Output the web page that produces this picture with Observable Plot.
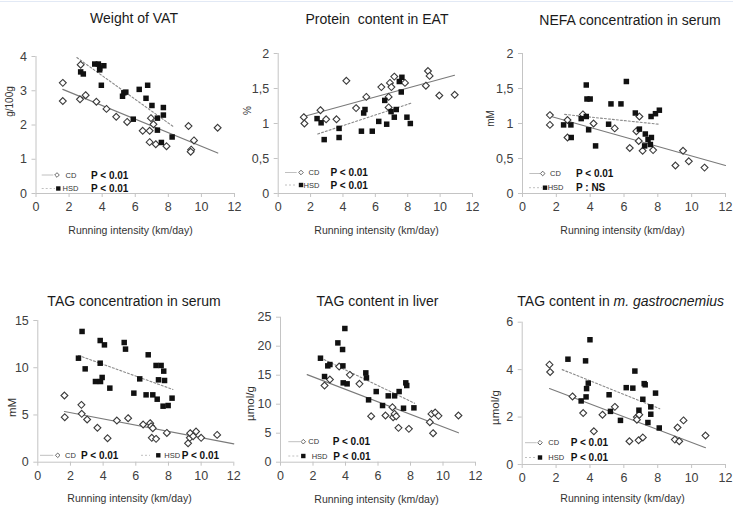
<!DOCTYPE html>
<html>
<head>
<meta charset="utf-8">
<script src="https://cdn.jsdelivr.net/npm/d3@7"></script>
<script src="https://cdn.jsdelivr.net/npm/@observablehq/plot@0.6"></script>
<style>
  body { margin: 0; background: #fff; font-family: "Liberation Sans", Arial, sans-serif; }
  #root { position: relative; width: 733px; height: 530px; overflow: hidden; background: #fff; }
  .panel { position: absolute; }
  .title { position: absolute; transform: translate(-50%, -50%); font-size: 14px; color: #1a1a1a; white-space: pre; line-height: 1; }
  #topline { position: absolute; left: 0; top: 1px; width: 733px; height: 1px; background: #e2e9f5; }
  #overlay { position: absolute; left: 0; top: 0; pointer-events: none; }
</style>
</head>
<body>
<div id="root"><div id="topline"></div></div>
<script>
// ---------- DATA ----------
const xTicks = [0, 2, 4, 6, 8, 10, 12];
const groups = ["CD", "HSD"];

// Weight of VAT (g/100g)
const vatCdX  = [1.62,1.62,2.70,2.66,3.00,3.65,4.26,4.85,5.51,6.45,6.87,6.95,7.10,6.87,7.24,7.89,9.22,9.55,9.38,9.35,10.98];
const vatCdY  = [3.23,2.70,3.76,2.75,2.87,2.68,2.47,2.24,2.09,1.83,1.83,2.20,2.02,1.50,1.44,1.38,1.97,1.55,1.28,1.22,1.92];
const vatHsdX = [2.70,2.86,3.55,3.77,3.85,3.85,4.10,3.95,5.23,5.31,5.43,5.88,6.24,6.65,6.75,7.01,7.34,7.34,7.70,7.70,7.58,8.23];
const vatHsdY = [3.55,3.49,3.78,3.78,3.66,3.61,3.73,3.16,2.84,2.94,2.96,2.17,3.04,2.78,3.16,2.57,2.20,1.85,2.51,2.29,1.49,1.65];
const vatCdFitX = [1.62, 10.99], vatCdFitY = [3.04, 1.18];
const vatHsdFitX = [2.47, 8.31], vatHsdFitY = [3.97, 1.95];
const vatYTicks = [0, 1, 2, 3, 4];

// Protein content in EAT (%)
const protCdX  = [1.58,1.62,2.61,2.96,3.60,4.21,4.81,5.44,6.37,6.82,6.82,6.90,6.99,7.17,7.83,9.12,9.25,9.35,9.95,10.90];
const protCdY  = [1.09,1.00,1.19,1.06,1.06,1.61,1.22,1.38,1.52,1.38,1.23,1.58,1.52,1.67,1.58,1.54,1.75,1.68,1.40,1.41];
const protHsdX = [2.40,2.65,2.84,3.76,3.76,5.14,5.28,5.36,5.81,6.21,6.58,6.70,6.97,7.17,7.29,7.48,7.64,7.60,7.95,8.16];
const protHsdY = [1.07,1.01,0.77,0.93,0.80,0.89,1.15,1.20,0.89,1.03,1.33,0.99,1.17,1.09,1.20,1.60,1.66,1.45,1.09,1.00];
const protCdFitX = [1.58, 10.89], protCdFitY = [1.10, 1.69];
const protHsdFitX = [2.44, 8.20], protHsdFitY = [0.85, 1.29];
const halfTicks = [0, 0.5, 1, 1.5, 2];

// NEFA concentration in serum (mM)
const nefaCdX  = [1.62,1.62,2.66,2.66,3.57,4.20,5.45,6.34,6.73,6.87,6.91,7.10,7.72,9.04,9.49,9.83,10.76];
const nefaCdY  = [1.12,0.98,1.05,0.80,1.13,1.00,0.93,0.65,0.89,0.75,1.10,0.61,0.62,0.40,0.61,0.46,0.37];
const nefaHsdX = [2.43,2.86,2.88,3.47,3.77,3.77,3.81,4.00,3.91,4.32,5.09,5.23,5.82,6.14,6.67,6.91,7.26,7.22,7.42,7.56,7.62,7.60,7.86,8.09];
const nefaHsdY = [0.98,0.98,0.80,1.07,1.55,1.10,1.35,1.35,0.91,0.68,0.99,1.28,1.28,1.60,1.15,0.92,0.85,0.68,0.77,0.70,0.80,1.10,1.14,1.19];
const nefaCdFitX = [1.70, 12.0], nefaCdFitY = [1.10, 0.40];
const nefaHsdFitX = [2.49, 8.05], nefaHsdFitY = [1.13, 0.99];

// TAG concentration in serum (mM)
const tsCdX  = [1.63,1.65,2.67,2.69,3.02,3.65,4.27,4.84,5.53,6.45,6.88,6.94,7.04,6.98,7.24,7.90,9.20,9.31,9.33,9.51,9.69,10.00,10.98];
const tsCdY  = [7.06,4.76,6.07,5.12,4.52,3.64,2.54,4.41,4.66,3.99,4.13,3.81,3.60,2.58,2.47,3.10,2.00,2.58,3.07,2.75,3.25,2.58,2.89];
const tsHsdX = [2.49,2.71,2.90,3.53,3.82,3.82,3.84,3.94,4.08,4.41,5.29,5.37,5.88,6.24,6.63,6.76,7.04,7.24,7.31,7.39,7.55,7.71,7.76,7.67,7.98,8.22];
const tsHsdY = [11.01,13.84,9.88,8.54,12.88,10.48,8.54,8.97,12.42,7.84,12.67,11.97,7.31,8.82,7.13,11.37,7.13,10.24,6.67,8.72,10.24,9.64,8.65,5.93,6.00,6.78];
const tsCdFitX = [1.63, 12.0], tsCdFitY = [5.37, 1.94];
const tsHsdFitX = [2.49, 8.27], tsHsdFitY = [11.3, 7.7];
const tsYTicks = [0, 5, 10, 15];

// TAG content in liver (µmol/g)
const tlCdX  = [2.71,3.04,3.61,4.27,4.86,5.58,6.46,6.89,6.93,7.02,7.12,7.26,7.90,9.19,9.29,9.52,9.39,9.72,10.95];
const tlCdY  = [13.22,14.25,16.49,15.06,13.51,7.93,8.05,9.48,7.76,8.33,7.93,5.92,5.75,6.90,8.33,8.56,5.00,7.99,8.05];
const tlHsdX = [2.46,2.71,2.91,3.04,3.53,3.82,3.84,3.86,3.96,4.10,5.25,5.29,5.42,5.89,6.28,6.63,7.02,7.30,7.57,7.71,7.77,8.21];
const tlHsdY = [17.93,14.77,16.61,16.84,20.57,19.43,16.61,13.68,23.05,13.51,15.40,14.54,10.75,12.18,9.77,11.44,11.44,12.18,9.31,13.68,13.22,9.37];
const tlCdFitX = [1.64, 10.95], tlCdFitY = [15.1, 5.06];
const tlHsdFitX = [2.46, 8.25], tlHsdFitY = [17.99, 10.17];
const tlYTicks = [0, 5, 10, 15, 20, 25];

// TAG content in m. gastrocnemius (µmol/g)
const tmCdX  = [1.61,1.65,2.97,3.60,4.23,4.74,5.47,6.33,6.77,6.77,6.87,6.91,7.12,9.01,9.17,9.27,9.52,10.82];
const tmCdY  = [4.21,3.90,2.87,2.17,1.40,2.10,2.43,0.98,2.00,1.89,1.02,2.10,1.14,1.05,1.56,0.98,1.86,1.22];
const tmHsdX = [2.70,3.74,4.00,3.48,3.77,3.80,3.90,5.13,5.21,5.80,6.14,6.53,6.65,6.89,7.12,7.20,7.26,7.42,7.59,7.59,7.87,8.09];
const tmHsdY = [4.44,4.37,5.26,2.68,2.85,3.20,3.43,2.94,2.24,1.86,3.24,3.22,3.94,2.29,2.75,3.41,3.36,1.77,2.43,2.12,3.01,1.54];
const tmCdFitX = [1.61, 10.82], tmCdFitY = [3.20, 0.71];
const tmHsdFitX = [2.36, 8.12], tmHsdFitY = [4.00, 2.35];
const tmYTicks = [0, 2, 4, 6];

const titles = ["Weight of VAT", "Protein  content in EAT", "NEFA concentration in serum",
                "TAG concentration in serum", "TAG content in liver", "TAG content in "];
const yLabels = ["g/100g", "%", "mM", "mM", "µmol/g", "µmol/g"];
const xLabel = "Running intensity (km/day)";
const pLabels = [["P < 0.01","P < 0.01"],["P < 0.01","P < 0.01"],["P < 0.01","P : NS"],
                 ["P < 0.01","P < 0.01"],["P < 0.01","P < 0.01"],["P < 0.01","P < 0.01"]];

// ---------- LAYOUT ----------
const zip = (xs, ys) => xs.map((x, i) => ({x, y: ys[i]}));
const comma = d => String(d).replace(".", ",");

const panels = [
  {L:0,   T:40,  W:245, H:205, x0:35.5, x12:234, y0:193, yTop:56, yDomain:[0,4],  yTicks:vatYTicks, fmt:d=>d,
   cd:zip(vatCdX,vatCdY), hsd:zip(vatHsdX,vatHsdY), cdFit:zip(vatCdFitX,vatCdFitY), hsdFit:zip(vatHsdFitX,vatHsdFitY),
   yl:{x:9,y:101,size:10}, xl:{x:130,y:230}, title:{x:134,y:18}},
  {L:242, T:40,  W:240, H:205, x0:277.7, x12:472, y0:193, yTop:53, yDomain:[0,2], yTicks:halfTicks, fmt:comma,
   cd:zip(protCdX,protCdY), hsd:zip(protHsdX,protHsdY), cdFit:zip(protCdFitX,protCdFitY), hsdFit:zip(protHsdFitX,protHsdFitY),
   yl:{x:247,y:110,size:10}, xl:{x:376,y:230}, title:{x:377,y:19}},
  {L:484, T:40,  W:249, H:205, x0:522, x12:725, y0:193, yTop:53, yDomain:[0,2], yTicks:halfTicks, fmt:comma,
   cd:zip(nefaCdX,nefaCdY), hsd:zip(nefaHsdX,nefaHsdY), cdFit:zip(nefaCdFitX,nefaCdFitY), hsdFit:zip(nefaHsdFitX,nefaHsdFitY),
   yl:{x:490,y:118,size:10}, xl:{x:622,y:230}, title:{x:630,y:20}},
  {L:0,   T:305, W:245, H:225, x0:37.3, x12:233.3, y0:461.7, yTop:320, yDomain:[0,15], yTicks:tsYTicks, fmt:d=>d,
   cd:zip(tsCdX,tsCdY), hsd:zip(tsHsdX,tsHsdY), cdFit:zip(tsCdFitX,tsCdFitY), hsdFit:zip(tsHsdFitX,tsHsdFitY),
   yl:{x:12,y:407,size:11.5}, xl:{x:129,y:498}, title:{x:134,y:301}},
  {L:242, T:305, W:240, H:225, x0:280, x12:475, y0:461.7, yTop:316.7, yDomain:[0,25], yTicks:tlYTicks, fmt:d=>d,
   cd:zip(tlCdX,tlCdY), hsd:zip(tlHsdX,tlHsdY), cdFit:zip(tlCdFitX,tlCdFitY), hsdFit:zip(tlHsdFitX,tlHsdFitY),
   yl:{x:250,y:403,size:11.5}, xl:{x:376,y:499}, title:{x:377.5,y:301}},
  {L:484, T:305, W:249, H:225, x0:521.7, x12:725, y0:464, yTop:321.7, yDomain:[0,6], yTicks:tmYTicks, fmt:d=>d,
   cd:zip(tmCdX,tmCdY), hsd:zip(tmHsdX,tmHsdY), cdFit:zip(tmCdFitX,tmCdFitY), hsdFit:zip(tmHsdFitX,tmHsdFitY),
   yl:{x:495,y:407,size:11.5}, xl:{x:622,y:498}, title:{x:620.7,y:301}}
];

// legend rows: [lineX1, lineX2, symX, labelX, pX, y]
const legends = [
  [[41.7,53.3,57,65.5,91,175],[41.7,55,58.3,62.5,91,188.5]],
  [[285,296.7,301,308.5,330.5,172.5],[285,296.7,301,303.5,330.5,185]],
  [[529.3,540,542.7,550,576,173.5],[529,541.7,545,547.7,576,187.7]],
  [[40,53.3,57.7,65,81,455.3],[141,150,158.3,164.3,181.7,455.3]],
  [[288.3,300,303.3,308.3,332.7,441.7],[288.3,300,303.3,311.7,333.3,456]],
  [[525,536.7,540,548.3,570.7,442.7],[525,536.7,540,548.3,570.7,457.5]]
];

const root = document.getElementById("root");
const font = "'Liberation Sans', Arial, sans-serif";

panels.forEach((p, i) => {
  const mL = p.x0 - p.L, mR = p.L + p.W - p.x12, mT = p.yTop - p.T, mB = p.T + p.H - p.y0;
  const cx = (p.x0 + p.x12) / 2, cy = (p.yTop + p.y0) / 2;
  const chart = Plot.plot({
    width: p.W, height: p.H,
    marginLeft: mL, marginRight: mR, marginTop: mT, marginBottom: mB,
    style: {fontFamily: font, fontSize: "12px", color: "#404040", background: "transparent", overflow: "visible"},
    x: {domain: [0, 12]},
    y: {domain: p.yDomain},
    marks: [
      Plot.ruleX([0], {stroke: "#c4c4c4", strokeWidth: 1}),
      Plot.ruleY([p.yDomain[0]], {stroke: "#c4c4c4", strokeWidth: 1}),
      Plot.axisX({ticks: xTicks, tickSize: 4, tickPadding: 5, stroke: "#c4c4c4", label: null, fontSize: 12.5}),
      Plot.axisY({ticks: p.yTicks, tickSize: 4, tickPadding: 5, stroke: "#c4c4c4", tickFormat: p.fmt, label: null, fontSize: 12.5}),
      Plot.text([xLabel], {text: d => d, frameAnchor: "bottom", textAnchor: "middle", lineAnchor: "middle",
        dx: p.xl.x - cx, dy: p.xl.y - p.y0, fontSize: 10.5, fill: "#333"}),
      Plot.text([yLabels[i]], {text: d => d, frameAnchor: "left", textAnchor: "middle", lineAnchor: "middle", rotate: -90,
        dx: p.yl.x - p.x0, dy: p.yl.y - cy, fontSize: p.yl.size, fill: "#333"}),
      Plot.line(p.cdFit, {x: "x", y: "y", stroke: "#7a7a7a", strokeWidth: 1.1}),
      Plot.line(p.hsdFit, {x: "x", y: "y", stroke: "#8a8a8a", strokeWidth: 1.1, strokeDasharray: "2,2"}),
      Plot.dot(p.cd, {x: "x", y: "y", symbol: "diamond2", r: 3.1, fill: "white", stroke: "#3a3a3a", strokeWidth: 1.1}),
      Plot.dot(p.hsd, {x: "x", y: "y", symbol: "square", r: 3.1, fill: "#111", stroke: "none"})
    ]
  });
  const wrap = document.createElement("div");
  wrap.className = "panel";
  wrap.style.left = p.L + "px";
  wrap.style.top = p.T + "px";
  wrap.appendChild(chart);
  root.appendChild(wrap);

  const t = document.createElement("div");
  t.className = "title";
  t.style.left = p.title.x + "px";
  t.style.top = p.title.y + "px";
  t.textContent = titles[i];
  if (i === 5) {
    const em = document.createElement("i");
    em.textContent = "m. gastrocnemius";
    t.appendChild(em);
  }
  root.appendChild(t);
});

// legends overlay
const svg = d3.select(root).append("svg").attr("id", "overlay").attr("width", 733).attr("height", 530)
  .style("font-family", font);
legends.forEach((rows, i) => {
  rows.forEach((r, g) => {
    const [x1, x2, sx, lx, px, y] = r;
    svg.append("line").attr("x1", x1).attr("x2", x2).attr("y1", y).attr("y2", y)
      .attr("stroke", "#c0c0c0").attr("stroke-width", 1).attr("stroke-dasharray", g ? "2,2" : null);
    if (g === 0) {
      svg.append("path").attr("d", `M${sx},${y-2.3}L${sx+2.3},${y}L${sx},${y+2.3}L${sx-2.3},${y}Z`)
        .attr("fill", "white").attr("stroke", "#444").attr("stroke-width", 0.8);
    } else {
      svg.append("rect").attr("x", sx - 2.2).attr("y", y - 2.2).attr("width", 4.4).attr("height", 4.4).attr("fill", "#111");
    }
    svg.append("text").attr("x", lx).attr("y", y).attr("dy", "0.35em").attr("font-size", 7.5).attr("fill", "#333").text(groups[g]);
    svg.append("text").attr("x", px).attr("y", y).attr("dy", "0.35em").attr("font-size", 10).attr("font-weight", "bold")
      .attr("fill", "#111").text(pLabels[i][g]);
  });
});
</script>
</body>
</html>
